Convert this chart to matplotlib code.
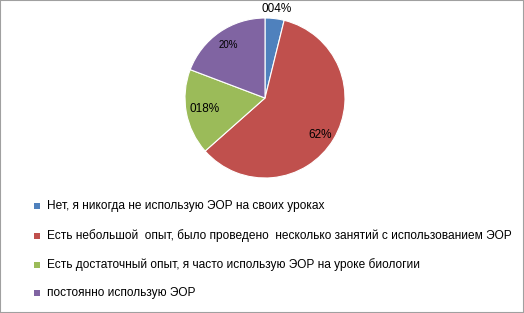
import matplotlib
matplotlib.use('Agg')
import matplotlib.pyplot as plt
from matplotlib.patches import Rectangle

# Данные диаграммы
categories = [
    'Нет, я никогда не использую ЭОР на своих уроках',
    'Есть небольшой  опыт, было проведено  несколько занятий с использованием ЭОР',
    'Есть достаточный опыт, я часто использую ЭОР на уроке биологии',
    'постоянно использую ЭОР',
]
values = [4, 62, 18, 20]
value_labels = ['004%', '62%', '018%', '20%']
colors = ['#4F81BD', '#C0504D', '#9BBB59', '#8064A2']

fig = plt.figure(figsize=(5.24, 3.13), dpi=100)
plt.rcParams['font.family'] = ['Liberation Sans', 'DejaVu Sans']

# Круговая диаграмма
ax = fig.add_axes([185/524, 1 - 178/313, 160/524, 160/313])
wedges, _ = ax.pie(values, colors=colors, startangle=90, counterclock=False,
                   wedgeprops=dict(edgecolor='white', linewidth=0.8))
ax.set_xlim(-1, 1)
ax.set_ylim(-1, 1)
ax.set_aspect('equal')

# Подписи значений
label_pos = [(0.15, 1.11), (0.69, -0.46), (-0.75, -0.14), (-0.46, 0.66)]
label_size = [8.5, 8.5, 8.5, 7]
for (x, y), txt, fs in zip(label_pos, value_labels, label_size):
    ax.text(x, y, txt, ha='center', va='center', fontsize=fs)

# Легенда
legend_y = [206, 236, 265, 293]
for yy, c, name in zip(legend_y, colors, categories):
    fig.patches.append(Rectangle((34/524, 1 - (yy + 3)/313), 6/524, 6/313,
                                 transform=fig.transFigure, facecolor=c, edgecolor='none'))
    fig.text(47/524, 1 - yy/313, name, fontsize=8.6, va='center', ha='left')

# Рамка
fig.patches.append(Rectangle((0, 0), 1, 1, transform=fig.transFigure, fill=False,
                             edgecolor='#A0A0A0', linewidth=1.5))

fig.savefig('out.png', dpi=100)
